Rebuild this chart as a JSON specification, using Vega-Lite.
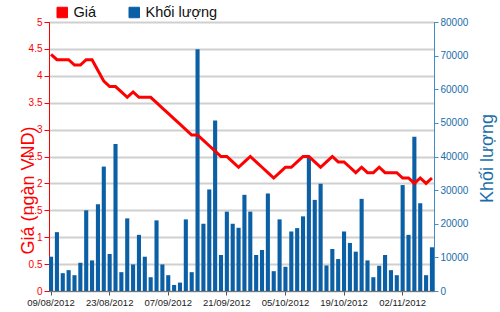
{
  "$schema": "https://vega.github.io/schema/vega-lite/v6.json",
  "width": 385,
  "height": 269,
  "autosize": {"type": "none"},
  "padding": {"left": 49, "top": 22, "right": 66, "bottom": 21},
  "background": "white",
  "config": {
    "font": "Liberation Sans",
    "view": {"stroke": "#222222", "strokeWidth": 1}
  },
  "data": {
    "values": [
      {"date": "09/08/2012", "price": 4.4, "volume": 10200},
      {"date": "10/08/2012", "price": 4.3, "volume": 17500},
      {"date": "13/08/2012", "price": 4.3, "volume": 5300},
      {"date": "14/08/2012", "price": 4.3, "volume": 6200},
      {"date": "15/08/2012", "price": 4.2, "volume": 4700},
      {"date": "16/08/2012", "price": 4.2, "volume": 8400},
      {"date": "17/08/2012", "price": 4.3, "volume": 24000},
      {"date": "20/08/2012", "price": 4.3, "volume": 9100},
      {"date": "21/08/2012", "price": 4.1, "volume": 25800},
      {"date": "22/08/2012", "price": 3.9, "volume": 37000},
      {"date": "23/08/2012", "price": 3.8, "volume": 11000},
      {"date": "24/08/2012", "price": 3.8, "volume": 43700},
      {"date": "27/08/2012", "price": 3.7, "volume": 5600},
      {"date": "28/08/2012", "price": 3.6, "volume": 21600},
      {"date": "29/08/2012", "price": 3.7, "volume": 7900},
      {"date": "30/08/2012", "price": 3.6, "volume": 16700},
      {"date": "31/08/2012", "price": 3.6, "volume": 10200},
      {"date": "04/09/2012", "price": 3.6, "volume": 4100},
      {"date": "05/09/2012", "price": 3.5, "volume": 21000},
      {"date": "06/09/2012", "price": 3.4, "volume": 7900},
      {"date": "07/09/2012", "price": 3.3, "volume": 4700},
      {"date": "10/09/2012", "price": 3.2, "volume": 1800},
      {"date": "11/09/2012", "price": 3.1, "volume": 2500},
      {"date": "12/09/2012", "price": 3.0, "volume": 21300},
      {"date": "13/09/2012", "price": 2.9, "volume": 5600},
      {"date": "14/09/2012", "price": 2.9, "volume": 71900},
      {"date": "17/09/2012", "price": 2.8, "volume": 20000},
      {"date": "18/09/2012", "price": 2.7, "volume": 30200},
      {"date": "19/09/2012", "price": 2.6, "volume": 50700},
      {"date": "20/09/2012", "price": 2.5, "volume": 10700},
      {"date": "21/09/2012", "price": 2.5, "volume": 23600},
      {"date": "24/09/2012", "price": 2.4, "volume": 20000},
      {"date": "25/09/2012", "price": 2.3, "volume": 18800},
      {"date": "26/09/2012", "price": 2.4, "volume": 28600},
      {"date": "27/09/2012", "price": 2.5, "volume": 23600},
      {"date": "28/09/2012", "price": 2.4, "volume": 10700},
      {"date": "01/10/2012", "price": 2.3, "volume": 12200},
      {"date": "02/10/2012", "price": 2.2, "volume": 29000},
      {"date": "03/10/2012", "price": 2.1, "volume": 5900},
      {"date": "04/10/2012", "price": 2.2, "volume": 21300},
      {"date": "05/10/2012", "price": 2.3, "volume": 7200},
      {"date": "08/10/2012", "price": 2.3, "volume": 17700},
      {"date": "09/10/2012", "price": 2.4, "volume": 18700},
      {"date": "10/10/2012", "price": 2.5, "volume": 22200},
      {"date": "11/10/2012", "price": 2.5, "volume": 40000},
      {"date": "12/10/2012", "price": 2.4, "volume": 27100},
      {"date": "15/10/2012", "price": 2.3, "volume": 31900},
      {"date": "16/10/2012", "price": 2.4, "volume": 7600},
      {"date": "17/10/2012", "price": 2.5, "volume": 12500},
      {"date": "18/10/2012", "price": 2.4, "volume": 9500},
      {"date": "19/10/2012", "price": 2.4, "volume": 17700},
      {"date": "22/10/2012", "price": 2.3, "volume": 14300},
      {"date": "23/10/2012", "price": 2.2, "volume": 11700},
      {"date": "24/10/2012", "price": 2.3, "volume": 27400},
      {"date": "25/10/2012", "price": 2.2, "volume": 9100},
      {"date": "26/10/2012", "price": 2.2, "volume": 4100},
      {"date": "29/10/2012", "price": 2.3, "volume": 7500},
      {"date": "30/10/2012", "price": 2.2, "volume": 10700},
      {"date": "31/10/2012", "price": 2.2, "volume": 6200},
      {"date": "01/11/2012", "price": 2.2, "volume": 4700},
      {"date": "02/11/2012", "price": 2.1, "volume": 31500},
      {"date": "05/11/2012", "price": 2.1, "volume": 16700},
      {"date": "06/11/2012", "price": 2.0, "volume": 45900},
      {"date": "07/11/2012", "price": 2.1, "volume": 26100},
      {"date": "08/11/2012", "price": 2.0, "volume": 4700},
      {"date": "09/11/2012", "price": 2.1, "volume": 13000}
    ]
  },
  "encoding": {
    "x": {
      "field": "date",
      "type": "ordinal",
      "sort": null,
      "scale": {"paddingInner": 0.3, "paddingOuter": 0},
      "axis": {
        "values": ["09/08/2012", "23/08/2012", "07/09/2012", "21/09/2012", "05/10/2012", "19/10/2012", "02/11/2012"],
        "labelAngle": 0,
        "title": null,
        "labelFontSize": 9.5,
        "labelColor": "#222222",
        "tickColor": "#555555",
        "tickSize": 4,
        "domainColor": "#777777",
        "labelPadding": 2
      }
    }
  },
  "layer": [
    {
      "mark": {"type": "bar"},
      "encoding": {
        "y": {
          "field": "volume",
          "type": "quantitative",
          "scale": {"domain": [0, 80000], "nice": false},
          "axis": {
            "orient": "right",
            "values": [0, 10000, 20000, 30000, 40000, 50000, 60000, 70000, 80000],
            "format": "d",
            "grid": false,
            "title": "Khối lượng",
            "titleColor": "#1a6ea8",
            "titleFontSize": 18,
            "titleFontWeight": "normal",
            "titleAngle": 270,
            "titleX": 53,
            "titleY": 136,
            "titleAlign": "center",
            "titleBaseline": "middle",
            "labelColor": "#1a6ea8",
            "labelFontSize": 10,
            "tickColor": "#3d8fc6",
            "tickSize": 4,
            "domainColor": "#3d8fc6",
            "labelPadding": 2
          }
        },
        "color": {
          "datum": "Khối lượng",
          "scale": {"domain": ["Giá", "Khối lượng"], "range": ["#ff0000", "#0b5fa5"]},
          "legend": {
            "orient": "none",
            "legendX": 6,
            "legendY": -17,
            "direction": "horizontal",
            "symbolType": "square",
            "symbolSize": 110,
            "symbolStrokeColor": "#333333",
            "symbolStrokeWidth": 1,
            "labelFontSize": 14.5,
            "labelColor": "#111111",
            "columnPadding": 30,
            "labelOffset": 4,
            "title": null
          }
        }
      }
    },
    {
      "mark": {"type": "line", "strokeWidth": 3},
      "encoding": {
        "y": {
          "field": "price",
          "type": "quantitative",
          "scale": {"domain": [0, 5], "nice": false},
          "axis": {
            "orient": "left",
            "values": [0, 0.5, 1, 1.5, 2, 2.5, 3, 3.5, 4, 4.5, 5],
            "format": "~g",
            "grid": true,
            "gridColor": "#d0d0d0",
            "gridWidth": 2,
            "title": "Giá (ngàn VND)",
            "titleColor": "#ff0000",
            "titleFontSize": 18,
            "titleFontWeight": "normal",
            "titleAngle": 270,
            "titleX": -21,
            "titleY": 168,
            "titleAlign": "center",
            "titleBaseline": "middle",
            "labelColor": "#ff0000",
            "labelFontSize": 10,
            "tickColor": "#ff0000",
            "tickSize": 5,
            "domainColor": "#ff0000",
            "labelPadding": 2
          }
        },
        "color": {
          "datum": "Giá",
          "scale": {"domain": ["Giá", "Khối lượng"], "range": ["#ff0000", "#0b5fa5"]},
          "legend": {
            "orient": "none",
            "legendX": 6,
            "legendY": -17,
            "direction": "horizontal",
            "symbolType": "square",
            "symbolSize": 110,
            "symbolStrokeColor": "#333333",
            "symbolStrokeWidth": 1,
            "labelFontSize": 14.5,
            "labelColor": "#111111",
            "columnPadding": 30,
            "labelOffset": 4,
            "title": null
          }
        }
      }
    }
  ],
  "resolve": {"scale": {"y": "independent"}}
}
